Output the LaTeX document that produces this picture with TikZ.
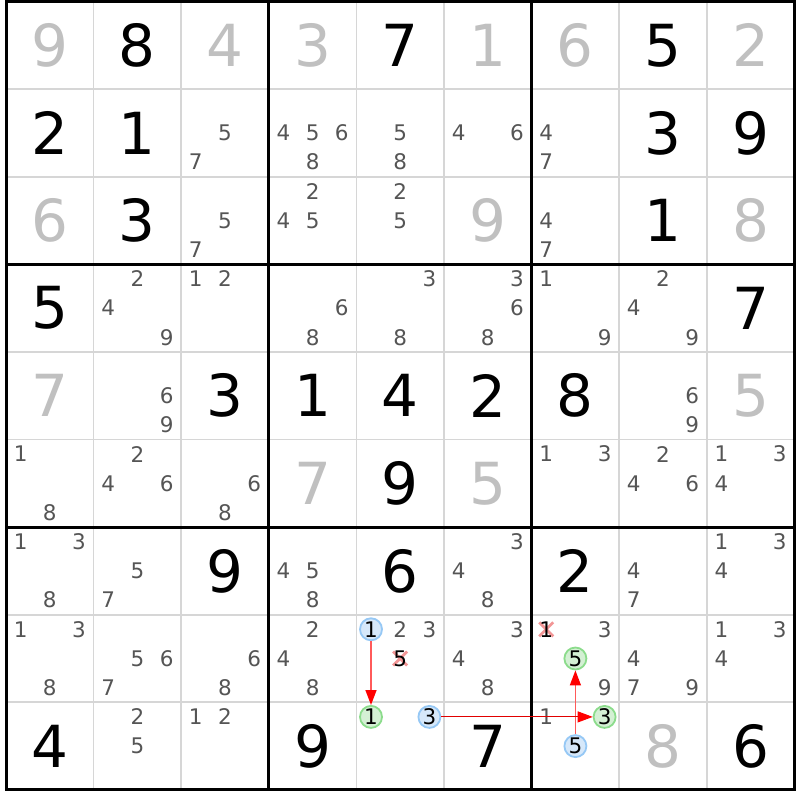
\documentclass[tikz,border=0pt]{standalone}
\usepackage{fontspec}
\setmainfont{DejaVu Sans}
\usetikzlibrary{arrows.meta}
\definecolor{candc}{RGB}{85,85,85}
\definecolor{givenc}{RGB}{192,192,192}
\definecolor{thinc}{RGB}{214,214,214}
\definecolor{bfill}{RGB}{214,232,250}
\definecolor{bline}{RGB}{150,200,245}
\definecolor{gfill}{RGB}{212,240,212}
\definecolor{gline}{RGB}{140,220,140}
\definecolor{xpink}{RGB}{242,150,150}
\definecolor{linkl}{RGB}{255,90,90}
\definecolor{linkd}{RGB}{225,0,0}
\begin{document}
\begin{tikzpicture}[x=1pt,y=-1pt,
  big/.style={inner sep=0pt, font=\fontsize{58}{58}\selectfont},
  placed/.style={big, text=black},
  clue/.style={big, text=givenc},
  candnum/.style={inner sep=0pt, text=candc, font=\fontsize{21.5}{21.5}\selectfont},
  hl/.style={circle, inner sep=0pt, minimum size=22pt, line width=1.8pt, text=black, font=\fontsize{21.5}{21.5}\selectfont},
  hlblue/.style={hl, draw=bline, fill=bfill},
  hlgreen/.style={hl, draw=gline, fill=gfill},
  struck/.style={inner sep=0pt, text=black, font=\fontsize{21.5}{21.5}\selectfont},
  xmark/.style={draw=xpink, line width=2.8pt},
  thinline/.style={draw=thinc, line width=1.7pt},
  thickline/.style={draw=black, line width=3pt},
  linksoft/.style={draw=linkl, line width=1.4pt, -{Triangle[length=15pt,width=11pt,color=red]}},
  linkhard/.style={draw=linkd, line width=1pt, -{Triangle[length=15pt,width=11pt,color=red]}}
]
\def\X{6}\def\Y{1.5}\def\C{87.6}
\useasboundingbox (0,0) rectangle (800,800);
\fill[white] (0,0) rectangle (800,800);
% thin lines
\foreach \i in {1,2,4,5,7,8}{
  \draw[thinline] ({\X+\i*\C},\Y) -- ({\X+\i*\C},{\Y+9*\C});
  \draw[thinline] (\X,{\Y+\i*\C}) -- ({\X+9*\C},{\Y+\i*\C});
}
% thick lines
\foreach \i in {3,6}{
  \draw[thickline] ({\X+\i*\C},\Y) -- ({\X+\i*\C},{\Y+9*\C});
  \draw[thickline] (\X,{\Y+\i*\C}) -- ({\X+9*\C},{\Y+\i*\C});
}
\draw[thickline] (\X,\Y) rectangle ({\X+9*\C},{\Y+9*\C});
% big digits
\foreach \r/\c/\d/\s in {
 0/0/9/clue, 0/1/8/placed, 0/2/4/clue, 0/3/3/clue, 0/4/7/placed, 0/5/1/clue, 0/6/6/clue, 0/7/5/placed, 0/8/2/clue,
 1/0/2/placed, 1/1/1/placed, 1/7/3/placed, 1/8/9/placed,
 2/0/6/clue, 2/1/3/placed, 2/5/9/clue, 2/7/1/placed, 2/8/8/clue,
 3/0/5/placed, 3/8/7/placed,
 4/0/7/clue, 4/2/3/placed, 4/3/1/placed, 4/4/4/placed, 4/5/2/placed, 4/6/8/placed, 4/8/5/clue,
 5/3/7/clue, 5/4/9/placed, 5/5/5/clue,
 6/2/9/placed, 6/4/6/placed, 6/6/2/placed,
 8/0/4/placed, 8/3/9/placed, 8/5/7/placed, 8/7/8/clue, 8/8/6/placed}{
  \node[\s] (g-\r-\c) at ({\X+(\c+0.5)*\C},{\Y+(\r+0.5)*\C}) {\d};
}
% candidates
\foreach \r/\c/\L in {
 1/2/{5,7}, 1/3/{4,5,6,8}, 1/4/{5,8}, 1/5/{4,6}, 1/6/{4,7},
 2/2/{5,7}, 2/3/{2,4,5}, 2/4/{2,5}, 2/6/{4,7},
 3/1/{2,4,9}, 3/2/{1,2}, 3/3/{6,8}, 3/4/{3,8}, 3/5/{3,6,8}, 3/6/{1,9}, 3/7/{2,4,9},
 4/1/{6,9}, 4/7/{6,9},
 5/0/{1,8}, 5/1/{2,4,6}, 5/2/{6,8}, 5/6/{1,3}, 5/7/{2,4,6}, 5/8/{1,3,4},
 6/0/{1,3,8}, 6/1/{5,7}, 6/3/{4,5,8}, 6/5/{3,4,8}, 6/7/{4,7}, 6/8/{1,3,4},
 7/0/{1,3,8}, 7/1/{5,6,7}, 7/2/{6,8}, 7/3/{2,4,8}, 7/4/{2,3}, 7/5/{3,4,8}, 7/6/{3,9}, 7/7/{4,7,9}, 7/8/{1,3,4},
 8/1/{2,5}, 8/2/{1,2}, 8/6/{1}}{
  \foreach \k in \L {
    \pgfmathsetmacro\cx{\X+\c*\C+(mod(\k-1,3)+0.5)*\C/3}
    \pgfmathsetmacro\cy{\Y+\r*\C+(floor((\k-1)/3)+0.5)*\C/3}
    \node[candnum] (c-\r-\c-\k) at (\cx,\cy) {\k};
  }
}
% struck candidates
\coordinate (px5) at (400.2,658.5);
\coordinate (px1) at (546.2,629.3);
\draw[xmark] (px5) +(-7,-7) -- +(7,7) +(-7,7) -- +(7,-7);
\draw[xmark] (px1) +(-7,-7) -- +(7,7) +(-7,7) -- +(7,-7);
\node[struck] (x5) at (px5) {5};
\node[struck] (x1) at (px1) {1};
% highlighted candidates
\node[hlblue]  (b1) at (371,629.3) {1};
\node[hlgreen] (g1) at (371,716.9) {1};
\node[hlblue]  (b3) at (429.4,716.9) {3};
\node[hlgreen] (g3) at (604.6,716.9) {3};
\node[hlgreen] (g5) at (575.4,658.5) {5};
\node[hlblue]  (b5) at (575.4,746.1) {5};
% links
\draw[linksoft] (b1) -- (g1);
\draw[linksoft] (b5) -- (g5);
\draw[linkhard] (b3) -- (g3);
\end{tikzpicture}
\end{document}
